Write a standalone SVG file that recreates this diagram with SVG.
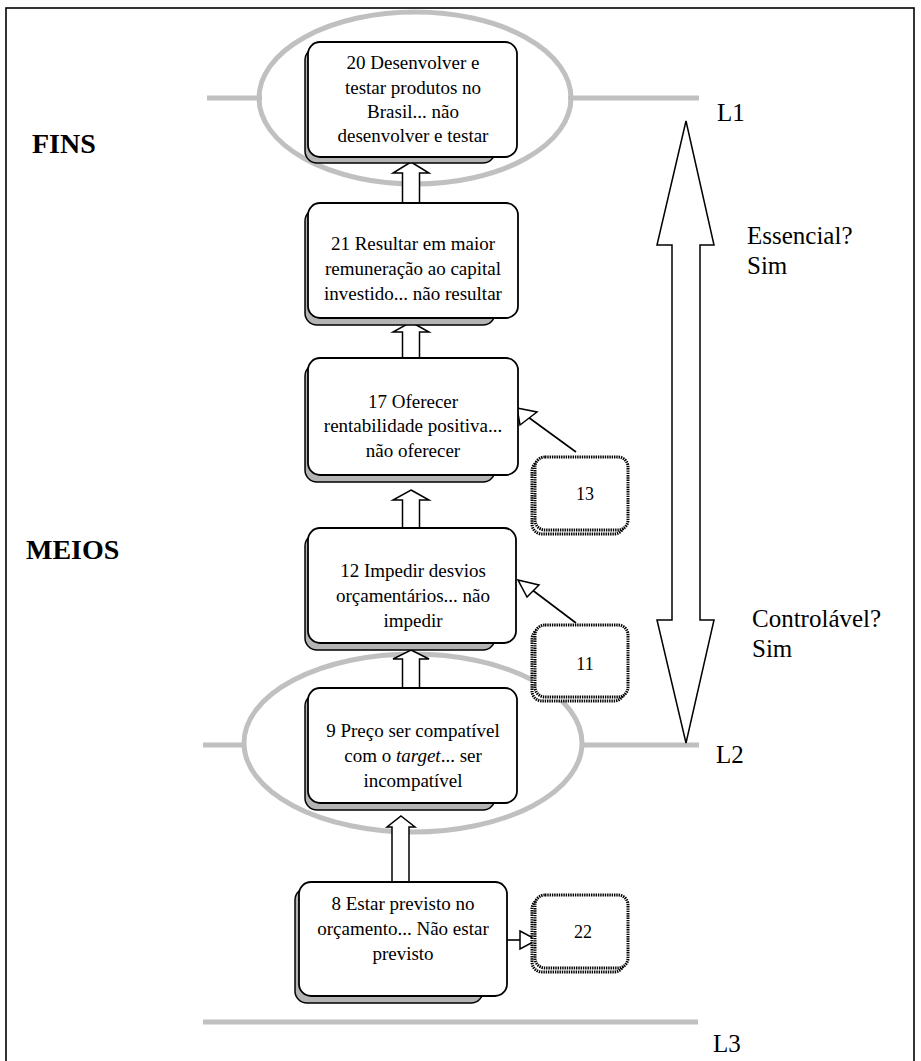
<svg xmlns="http://www.w3.org/2000/svg" width="921" height="1061" viewBox="0 0 921 1061">
  <style>
    .nt { font-family: "Liberation Serif", "Times New Roman", serif; font-size: 19px; fill: #000; text-anchor: middle; }
    .lab { font-family: "Liberation Serif", "Times New Roman", serif; font-size: 25px; fill: #000; }
    .head { font-family: "Liberation Serif", "Times New Roman", serif; font-size: 28px; font-weight: bold; fill: #000; }
    .num { font-family: "Liberation Serif", "Times New Roman", serif; font-size: 18px; fill: #000; text-anchor: middle; }
    .box { fill: #fff; stroke: #000; stroke-width: 1.8; }
    .shadow { fill: #b4b4b4; stroke: #000; stroke-width: 1.5; }
    .dot { fill: #fff; stroke: #000; stroke-width: 3; stroke-dasharray: 1.4 0.9; }
    .level { stroke: #c0c0c0; stroke-width: 5; fill: none; }
    .block { fill: #fff; stroke: #000; stroke-width: 1.5; stroke-linejoin: miter; }
    .link { stroke: #000; stroke-width: 1.6; fill: none; }
  </style>

  <!-- outer frame -->
  <rect x="6" y="8" width="908" height="1070" fill="#fff" stroke="#000" stroke-width="1.6"/>

  <!-- side headings -->
  <text class="head" x="32" y="153">FINS</text>
  <text class="head" x="26" y="559">MEIOS</text>

  <!-- level lines and rings -->
  <g id="levels">
    <line class="level" x1="207" y1="98" x2="262" y2="98"/>
    <line class="level" x1="568" y1="98" x2="699" y2="98"/>
    <ellipse class="level" cx="415" cy="98" rx="156" ry="86"/>
    <line class="level" x1="203" y1="745" x2="245" y2="745"/>
    <line class="level" x1="581" y1="745" x2="699" y2="745"/>
    <ellipse class="level" cx="413" cy="743" rx="169" ry="89"/>
    <line class="level" x1="203" y1="1022" x2="698" y2="1022"/>
    <text class="lab" x="717" y="121">L1</text>
    <text class="lab" x="716" y="763">L2</text>
    <text class="lab" x="713" y="1052">L3</text>
  </g>

  <!-- double-headed scale arrow -->
  <g id="scale">
    <polygon class="block" points="686,121 714,245 700,245 700,620 714,620 686,743 657,620 672,620 672,245 657,245"/>
    <text class="lab" x="747" y="244">Essencial?</text>
    <text class="lab" x="747" y="274">Sim</text>
    <text class="lab" x="752" y="627">Controlável?</text>
    <text class="lab" x="752" y="657">Sim</text>
  </g>

  <!-- connectors -->
  <g id="connectors">
    <polygon class="block" points="411,162 429,173 419.5,173 419.5,203 402.5,203 402.5,173 393,173"/>
    <polygon class="block" points="411,322 429,332 419.5,332 419.5,358 402.5,358 402.5,332 393,332"/>
    <polygon class="block" points="411,490 429,500 419.5,500 419.5,528 402.5,528 402.5,500 393,500"/>
    <polygon class="block" points="411,650 429,659 419.5,659 419.5,688 402.5,688 402.5,659 393,659"/>
    <polygon class="block" points="401,816 415,827 409,827 409,882 392,882 392,827 387,827"/>
    <!-- 13 -> 17 -->
    <line class="link" x1="576" y1="452" x2="528" y2="417"/>
    <polygon class="block" points="517,408 537,412 520,425"/>
    <!-- 11 -> 12 -->
    <line class="link" x1="576" y1="623" x2="531" y2="589"/>
    <polygon class="block" points="518,580 539,585 527,597"/>
    <!-- 8 -> 22 -->
    <line class="link" x1="507" y1="940" x2="520" y2="940"/>
    <polygon class="block" points="520,931 537,940 520,949"/>
  </g>

  <!-- node 20 -->
  <g id="n20">
    <rect class="shadow" x="305" y="48" width="190" height="115" rx="12"/>
    <rect class="box" x="308" y="42" width="209" height="115" rx="12"/>
    <text class="nt" x="413" y="69">20 Desenvolver e</text>
    <text class="nt" x="413" y="94">testar produtos no</text>
    <text class="nt" x="413" y="118">Brasil... não</text>
    <text class="nt" x="413" y="142">desenvolver e testar</text>
  </g>

  <!-- node 21 -->
  <g id="n21">
    <rect class="shadow" x="305" y="209" width="190" height="116" rx="12"/>
    <rect class="box" x="308" y="203" width="210" height="115" rx="12"/>
    <text class="nt" x="413" y="250">21 Resultar em maior</text>
    <text class="nt" x="413" y="275">remuneração ao capital</text>
    <text class="nt" x="413" y="300">investido... não resultar</text>
  </g>

  <!-- node 17 -->
  <g id="n17">
    <rect class="shadow" x="305" y="364" width="190" height="118" rx="12"/>
    <rect class="box" x="308" y="358" width="210" height="117" rx="12"/>
    <text class="nt" x="413" y="408">17 Oferecer</text>
    <text class="nt" x="413" y="432">rentabilidade positiva...</text>
    <text class="nt" x="413" y="457">não oferecer</text>
  </g>

  <!-- node 12 -->
  <g id="n12">
    <rect class="shadow" x="305" y="534" width="190" height="116" rx="12"/>
    <rect class="box" x="308" y="528" width="208" height="115" rx="12"/>
    <text class="nt" x="413" y="577">12 Impedir desvios</text>
    <text class="nt" x="413" y="602">orçamentários... não</text>
    <text class="nt" x="413" y="627">impedir</text>
  </g>

  <!-- node 9 -->
  <g id="n9">
    <rect class="shadow" x="305" y="694" width="190" height="116" rx="12"/>
    <rect class="box" x="308" y="688" width="209" height="115" rx="12"/>
    <text class="nt" x="413" y="737">9 Preço ser compatível</text>
    <text class="nt" x="413" y="762">com o <tspan font-style="italic">target</tspan>... ser</text>
    <text class="nt" x="413" y="787">incompatível</text>
  </g>

  <!-- node 8 -->
  <g id="n8">
    <rect class="shadow" x="295" y="888" width="188" height="115" rx="12" stroke-width="1"/>
    <rect class="box" x="299" y="882" width="208" height="114" rx="12" stroke-width="1"/>
    <text class="nt" x="403" y="910">8 Estar previsto no</text>
    <text class="nt" x="403" y="935">orçamento... Não estar</text>
    <text class="nt" x="403" y="960">previsto</text>
  </g>

  <!-- node 13 -->
  <g id="n13">
    <rect class="dot" x="532" y="461" width="92" height="73" rx="10"/>
    <rect class="dot" x="535" y="457" width="93" height="73" rx="10"/>
    <text class="num" x="585" y="500">13</text>
  </g>

  <!-- node 11 -->
  <g id="n11">
    <rect class="dot" x="532" y="629" width="92" height="72" rx="10"/>
    <rect class="dot" x="535" y="625" width="93" height="72" rx="10"/>
    <text class="num" x="585" y="670">11</text>
  </g>

  <!-- node 22 -->
  <g id="n22">
    <rect class="dot" x="532" y="899" width="92" height="73" rx="10"/>
    <rect class="dot" x="535" y="895" width="93" height="73" rx="10"/>
    <text class="num" x="583" y="938">22</text>
  </g>
</svg>
